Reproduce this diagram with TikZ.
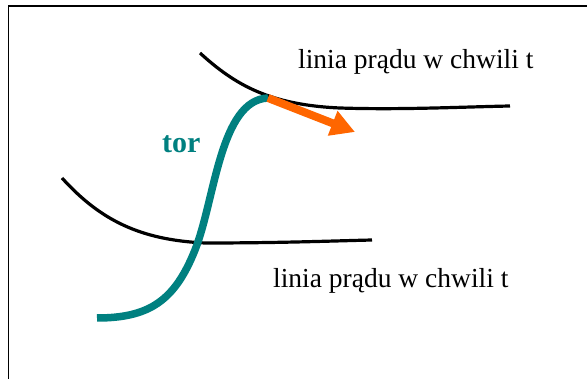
\documentclass[tikz,border=0pt]{standalone}
\usepackage{fontspec}
\setmainfont{Liberation Serif}
\usetikzlibrary{arrows.meta}
\definecolor{torteal}{RGB}{0,128,128}
\definecolor{vecorange}{RGB}{255,102,0}
\tikzset{
  streamline/.style={black,line width=3.2pt},
  pathline/.style={torteal,line width=7.5pt},
  velocity/.style={vecorange,line width=8pt,-{Triangle[length=24pt,width=25pt]}},
  label/.style={font=\fontsize{27.5}{30}\selectfont,inner sep=0pt,anchor=base west},
  frame/.style={black,line width=1.5pt}
}
\begin{document}
\begin{tikzpicture}[x=1pt,y=-1pt]
  \useasboundingbox (0,0) rectangle (587,379);
  \fill[white] (0,0) rectangle (587,379);
  % frame (top and left edges)
  \draw[frame] (8.7,379) -- (8.7,6) -- (587,6);

  % key points
  \coordinate (p) at (268,98);
  \coordinate (tip) at (355,132);

  % streamlines
  \draw[streamline] (200,53) .. controls (235,85) and (270,105) .. (340,108)
                    .. controls (400,110) and (460,107) .. (510,106);
  \draw[streamline] (62,178) .. controls (100,220) and (140,240) .. (205,243)
                    .. controls (280,243) and (330,241) .. (372,240);

  % particle path
  \draw[pathline] (97,318) .. controls (150,318) and (175,300) .. (195,250)
                  .. controls (215,200) and (220,100) .. (p);

  % velocity vector
  \draw[velocity] (p) -- (tip);

  % labels
  \node[label] (top) at (298,69) {linia prądu w chwili t};
  \node[label] (bottom) at (273,288) {linia prądu w chwili t};
  \node[label,font=\fontsize{30}{32}\selectfont\bfseries,text=torteal] (tor) at (162,153) {tor};
\end{tikzpicture}
\end{document}
